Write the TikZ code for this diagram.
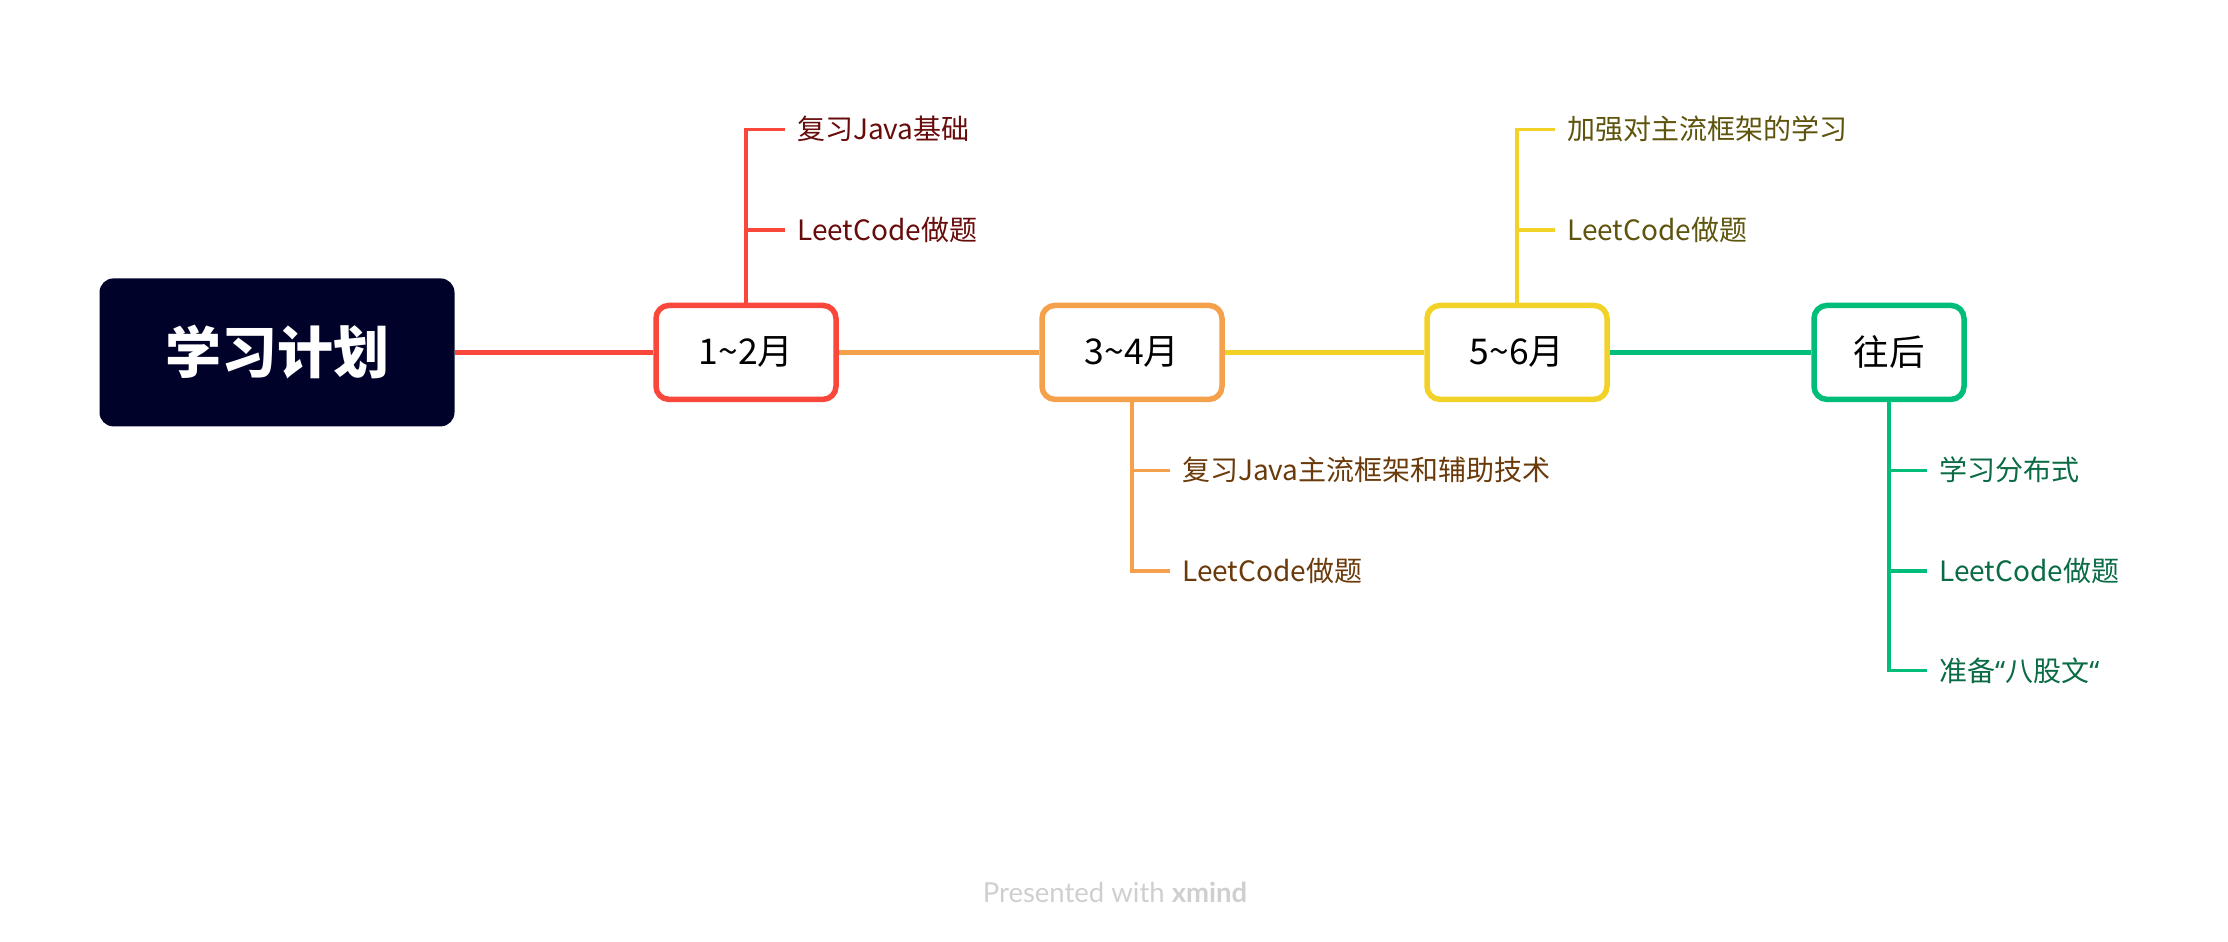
\documentclass[tikz,border=0pt]{standalone}
\usepackage{fontspec}
\setmainfont{Noto Sans CJK SC}
\newfontfamily\footfont{Lato}
\newfontfamily\quotefont{Noto Sans}
\definecolor{rootc}{HTML}{000229}
\definecolor{cred}{HTML}{F9473C}
\definecolor{corange}{HTML}{F5A04A}
\definecolor{cyellow}{HTML}{F2D227}
\definecolor{cgreen}{HTML}{00BE7A}
\definecolor{tred}{HTML}{680B0B}
\definecolor{torange}{HTML}{6A3A0A}
\definecolor{tyellow}{HTML}{5F540E}
\definecolor{tgreen}{HTML}{0A6B44}
\definecolor{footc}{HTML}{CFCFCF}
\begin{document}
\begin{tikzpicture}[x=1pt,y=-1pt,
  rootbox/.style={rectangle, rounded corners=14pt, fill=rootc, minimum width=355pt, minimum height=148pt, text=white, font=\fontsize{56pt}{60pt}\selectfont\bfseries, inner sep=0pt},
  monthbox/.style={rectangle, rounded corners=13pt, draw, line width=5.5pt, fill=white, minimum height=94pt, font=\fontsize{35.5pt}{40pt}\selectfont, inner sep=0pt},
  subtext/.style={anchor=west, inner xsep=12pt, inner ysep=0pt, font=\fontsize{28pt}{32pt}\selectfont, text height=24.6pt, text depth=3.4pt},
  mainline/.style={line width=5pt},
  subline/.style={line width=3.5pt}
]
\useasboundingbox (0,0) rectangle (2228,942);

\node[rootbox] (root) at (277,352.4) {学习计划};
\node[monthbox, draw=cred, minimum width=180pt] (m1) at (746,352.4) {1\char"007E 2月};
\node[monthbox, draw=corange, minimum width=180pt] (m2) at (1132,352.4) {3\char"007E 4月};
\node[monthbox, draw=cyellow, minimum width=180pt] (m3) at (1517,352.4) {5\char"007E 6月};
\node[monthbox, draw=cgreen, minimum width=150pt] (m4) at (1889,352.4) {往后};

\draw[mainline, cred] (root.east) -- (m1.west);
\draw[mainline, corange] (m1.east) -- (m2.west);
\draw[mainline, cyellow] (m2.east) -- (m3.west);
\draw[mainline, cgreen] (m3.east) -- (m4.west);

% 1~2
\node[subtext, text=tred] (s11) at (785,129.3) {复习Java基础};
\node[subtext, text=tred] (s12) at (785,230.2) {LeetCode做题};
\draw[subline, cred] (m1.north) |- (s11.west);
\draw[subline, cred] (m1.north) |- (s12.west);
% 3~4
\node[subtext, text=torange] (s21) at (1170,470.3) {复习Java主流框架和辅助技术};
\node[subtext, text=torange] (s22) at (1170,571.2) {LeetCode做题};
\draw[subline, corange] (m2.south) |- (s21.west);
\draw[subline, corange] (m2.south) |- (s22.west);
% 5~6
\node[subtext, text=tyellow] (s31) at (1555,129.3) {加强对主流框架的学习};
\node[subtext, text=tyellow] (s32) at (1555,230.2) {LeetCode做题};
\draw[subline, cyellow] (m3.north) |- (s31.west);
\draw[subline, cyellow] (m3.north) |- (s32.west);
% later
\node[subtext, text=tgreen] (s41) at (1927,470.3) {学习分布式};
\node[subtext, text=tgreen] (s42) at (1927,571.2) {LeetCode做题};
\node[subtext, text=tgreen] (s43) at (1927,670.7) {准备{\quotefont “}八股文{\quotefont “}};
\draw[subline, cgreen] (m4.south) |- (s41.west);
\draw[subline, cgreen] (m4.south) |- (s42.west);
\draw[subline, cgreen] (m4.south) |- (s43.west);

\node[text=footc, font=\footfont\fontsize{27.5pt}{30pt}\selectfont] (foot) at (1115,892) {Presented with \textbf{xmind}};
\end{tikzpicture}
\end{document}
